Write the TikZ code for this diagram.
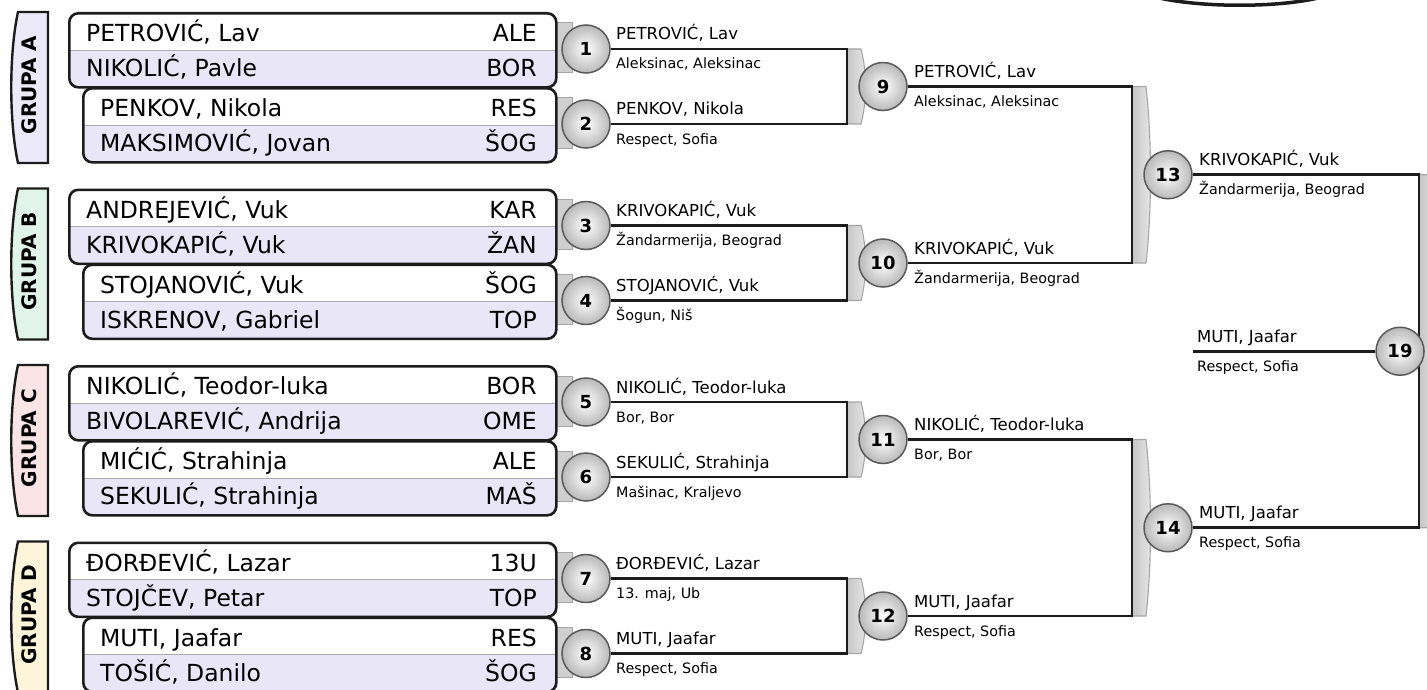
\documentclass[tikz,border=0pt]{standalone}
\usepackage{fontspec}
\setmainfont{DejaVu Sans}
\usepackage{tikz}
\usetikzlibrary{calc}
\definecolor{ink}{HTML}{1C1C1C}
\definecolor{rowb}{HTML}{E9E6F7}
\definecolor{ga}{HTML}{ECE9F8}
\definecolor{gb}{HTML}{E1F4EA}
\definecolor{gc}{HTML}{FBE4E6}
\definecolor{gd}{HTML}{FCF5D9}
\definecolor{rim}{HTML}{5A5A5A}
\tikzset{
  tab/.style={draw=ink, line width=2.4bp},
  grplbl/.style={font=\bfseries\fontsize{20bp}{22bp}\selectfont, inner sep=0pt},
  pairbox/.style={draw=ink, line width=2.6bp, rounded corners=9bp, minimum height=74bp, inner sep=0pt, fill=white,
    path picture={\fill[rowb, sharp corners] (path picture bounding box.west) rectangle (path picture bounding box.south east);
      \draw[gray!65, line width=1bp, sharp corners] (path picture bounding box.west) -- (path picture bounding box.east);}},
  pname/.style={font=\fontsize{23.5bp}{26bp}\selectfont, inner sep=0pt, anchor=base west},
  pcode/.style={font=\fontsize{23.5bp}{26bp}\selectfont, inner sep=0pt, anchor=base east},
  conn/.style={draw=gray!70, fill=gray!38, line width=1bp},
  brk/.style={draw=gray!70, left color=gray!45, right color=gray!18, line width=1.1bp},
  res/.style={draw=ink, line width=2.6bp},
  mball/.style={circle, draw=rim, line width=1.5bp, minimum size=48bp, inner sep=0pt,
    inner color=white, outer color=gray!55, font=\bfseries\fontsize{18bp}{20bp}\selectfont},
  wname/.style={font=\fontsize{16.5bp}{18bp}\selectfont, inner sep=0pt, anchor=base west},
  wclub/.style={font=\fontsize{14.3bp}{16bp}\selectfont, inner sep=0pt, anchor=base west},
}
% group tab: letter, top y, colour
\newcommand{\grp}[3]{%
  \draw[tab, fill=#3] (18,#2) -- (48,#2) -- (48,{#2+151}) -- (18,{#2+151})
    .. controls (9,{#2+110}) and (9,{#2+41}) .. (18,#2) -- cycle;
  \node[grplbl, rotate=90] (g#1) at (29.5,{#2+73}) {GRUPA #1};}
% two players of one first-round match: match, left x, top y, name, club, name, club
\newcommand{\pairbox}[7]{%
  \pgfmathsetmacro\bw{555-#2}
  \draw[conn] (552,{#3+11}) rectangle (572,{#3+61});
  \node[pairbox, minimum width=\bw bp, anchor=north west] (p#1) at (#2,#3) {};
  \node[pname] (p#1a) at ({#2+18},{#3+29.7}) {#4};
  \node[pcode] (p#1b) at (537,{#3+29.7}) {#5};
  \node[pname] (p#1c) at ({#2+18},{#3+64.7}) {#6};
  \node[pcode] (p#1d) at (537,{#3+64.7}) {#7};
  \node[mball] (m#1) at (586,{#3+37}) {#1};}
\newcommand{\brkt}[3]{%
  \draw[brk] (#1,#2) -- ({#1+14},#2) .. controls ({#1+20},{#2+0.3*(#3-#2)}) and ({#1+20},{#2+0.7*(#3-#2)}) .. ({#1+14},#3) -- (#1,#3) -- cycle;}
% next round: match, upper, lower, joint x, upper y, lower y, circle x
\newcommand{\rnd}[7]{%
  \brkt{#4}{#5}{#6}
  \coordinate (j#1) at (#4,{(#5+#6)/2});
  \draw[res] (m#2.east) -| (j#1) |- (m#3.east);
  \node[mball] (m#1) at (#7,{(#5+#6)/2}) {#1};}
\newcommand{\win}[5]{%
  \node[wname] (w#1) at (#2,{#3-9}) {#4};
  \node[wclub] (c#1) at (#2,{#3+20}) {#5};}

\begin{document}
\begin{tikzpicture}[x=1bp,y=-1bp]
  \useasboundingbox (0,0) rectangle (1427,690);
  \fill[white] (0,0) rectangle (1427,690);
  \draw[ink, line width=3.5bp] (1155,-3) .. controls (1200,8) and (1280,8) .. (1322,-3);

  \grp{A}{12}{ga}
  \grp{B}{188.5}{gb}
  \grp{C}{365}{gc}
  \grp{D}{541.5}{gd}

  \pairbox{1}{68}{12}{PETROVIĆ, Lav}{ALE}{NIKOLIĆ, Pavle}{BOR}
  \pairbox{2}{82}{87}{PENKOV, Nikola}{RES}{MAKSIMOVIĆ, Jovan}{ŠOG}
  \pairbox{3}{68}{188.5}{ANDREJEVIĆ, Vuk}{KAR}{KRIVOKAPIĆ, Vuk}{ŽAN}
  \pairbox{4}{82}{263.5}{STOJANOVIĆ, Vuk}{ŠOG}{ISKRENOV, Gabriel}{TOP}
  \pairbox{5}{68}{365}{NIKOLIĆ, Teodor-luka}{BOR}{BIVOLAREVIĆ, Andrija}{OME}
  \pairbox{6}{82}{440}{MIĆIĆ, Strahinja}{ALE}{SEKULIĆ, Strahinja}{MAŠ}
  \pairbox{7}{68}{541.5}{ĐORĐEVIĆ, Lazar}{13U}{STOJČEV, Petar}{TOP}
  \pairbox{8}{82}{616.5}{MUTI, Jaafar}{RES}{TOŠIĆ, Danilo}{ŠOG}

  \rnd{9}{1}{2}{847}{49}{124}{883}
  \rnd{10}{3}{4}{847}{225.5}{300.5}{883}
  \rnd{11}{5}{6}{847}{402}{477}{883}
  \rnd{12}{7}{8}{847}{578.5}{653.5}{883}
  \rnd{13}{9}{10}{1132}{86.5}{263}{1168}
  \rnd{14}{11}{12}{1132}{439.5}{616}{1168}

  % final
  \brkt{1419}{174.75}{527.75}
  \coordinate (j19) at (1419,351.25);
  \draw[res] (m13.east) -| (j19) |- (m14.east);
  \node[mball] (m19) at (1400,351.25) {19};
  \coordinate (s19) at (1193,351.25);
  \draw[res] (s19) -- (m19.west);

  \win{1}{616}{49}{PETROVIĆ, Lav}{Aleksinac, Aleksinac}
  \win{2}{616}{124}{PENKOV, Nikola}{Respect, Sofia}
  \win{3}{616}{225.5}{KRIVOKAPIĆ, Vuk}{Žandarmerija, Beograd}
  \win{4}{616}{300.5}{STOJANOVIĆ, Vuk}{Šogun, Niš}
  \win{5}{616}{402}{NIKOLIĆ, Teodor-luka}{Bor, Bor}
  \win{6}{616}{477}{SEKULIĆ, Strahinja}{Mašinac, Kraljevo}
  \win{7}{616}{578.5}{ĐORĐEVIĆ, Lazar}{13. maj, Ub}
  \win{8}{616}{653.5}{MUTI, Jaafar}{Respect, Sofia}
  \win{9}{914}{86.5}{PETROVIĆ, Lav}{Aleksinac, Aleksinac}
  \win{10}{914}{263}{KRIVOKAPIĆ, Vuk}{Žandarmerija, Beograd}
  \win{11}{914}{439.5}{NIKOLIĆ, Teodor-luka}{Bor, Bor}
  \win{12}{914}{616}{MUTI, Jaafar}{Respect, Sofia}
  \win{13}{1199}{174.75}{KRIVOKAPIĆ, Vuk}{Žandarmerija, Beograd}
  \win{14}{1199}{527.75}{MUTI, Jaafar}{Respect, Sofia}
  \win{19}{1197}{351.25}{MUTI, Jaafar}{Respect, Sofia}
\end{tikzpicture}
\end{document}
